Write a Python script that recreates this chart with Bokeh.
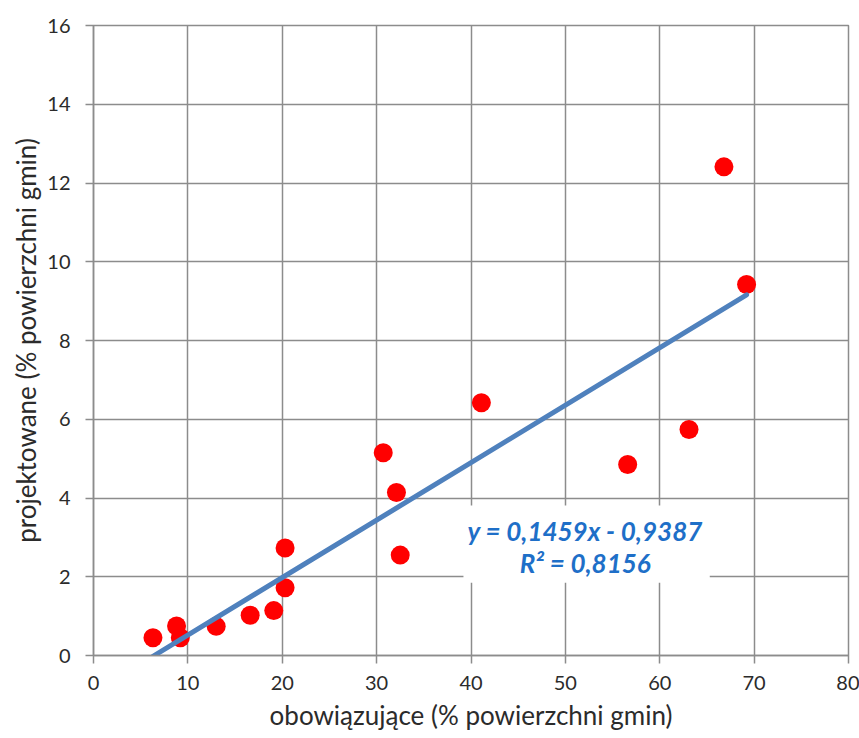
from bokeh.plotting import figure
from bokeh.models import Range1d, SingleIntervalTicker, Label, BoxAnnotation
from bokeh.embed import file_html
from bokeh.resources import INLINE

# data
x_vals = [6.3, 8.8, 9.2, 13.0, 16.6, 19.1, 20.3, 20.3, 30.7, 32.1, 32.5, 41.1, 56.6, 63.1, 66.8, 69.2]
y_vals = [0.45, 0.75, 0.45, 0.74, 1.02, 1.14, 1.72, 2.73, 5.15, 4.14, 2.55, 6.42, 4.85, 5.74, 12.41, 9.42]
slope = 0.1459
intercept = -0.9387
r2 = 0.8156
x_label = "obowiązujące (% powierzchni gmin)"
y_label = "projektowane (% powierzchni gmin)"

FONT = "Lato"
GRID = "#8c8c8c"
TXT = "#2b2b2b"

p = figure(width=859, height=738, output_backend="svg", toolbar_location=None,
           x_range=Range1d(0, 80), y_range=Range1d(0, 16),
           min_border_left=93, min_border_right=11, min_border_top=25, min_border_bottom=83)

p.outline_line_color = GRID
p.outline_line_width = 1.5

for ax, tk in ((p.xaxis, 10), (p.yaxis, 2)):
    ax.ticker = SingleIntervalTicker(interval=tk, num_minor_ticks=0)
    ax.axis_line_color = GRID
    ax.axis_line_width = 1.5
    ax.major_tick_line_color = GRID
    ax.major_tick_line_width = 1.5
    ax.major_tick_out = 8
    ax.major_tick_in = 0
    ax.minor_tick_line_color = None
    ax.major_label_text_font = FONT
    ax.major_label_text_font_size = "20px"
    ax.major_label_text_color = TXT
    ax.axis_label_text_font = FONT
    ax.axis_label_text_font_size = "26px"
    ax.axis_label_text_font_style = "normal"
    ax.axis_label_text_color = TXT

p.xaxis.axis_label = x_label
p.yaxis.axis_label = y_label
p.xaxis.major_label_standoff = 12
p.xaxis.axis_label_standoff = 6
p.yaxis.major_label_standoff = 15
p.yaxis.axis_label_standoff = 2

p.grid.grid_line_color = GRID
p.grid.grid_line_width = 1.5
p.grid.grid_line_alpha = 1.0

# points
p.scatter(x_vals, y_vals, size=19, fill_color="#ff0000", line_color=None)

# trendline
x0, x1 = min(x_vals), max(x_vals)
p.line([x0, x1], [slope * x0 + intercept, slope * x1 + intercept],
       line_color="#4f81bd", line_width=5, line_cap="round")

# equation box
p.add_layout(BoxAnnotation(left=39.2, right=65.3, bottom=1.85, top=3.81,
                           fill_color="white", fill_alpha=1.0, line_color=None))

def fmt(v):
    return f"{v:.4f}".replace(".", ",")

eq = f"y = {fmt(slope)}x - {fmt(abs(intercept))}"
rr = f"R² = {fmt(r2)}"
for txt, yy in ((eq, 3.17), (rr, 2.34)):
    p.add_layout(Label(x=52.1, y=yy, text=txt, text_align="center", text_baseline="middle",
                       text_font=FONT, text_font_size="26px", text_font_style="bold italic",
                       text_color="#1e6fc8"))

open("out.html", "w").write(file_html(p, INLINE))
